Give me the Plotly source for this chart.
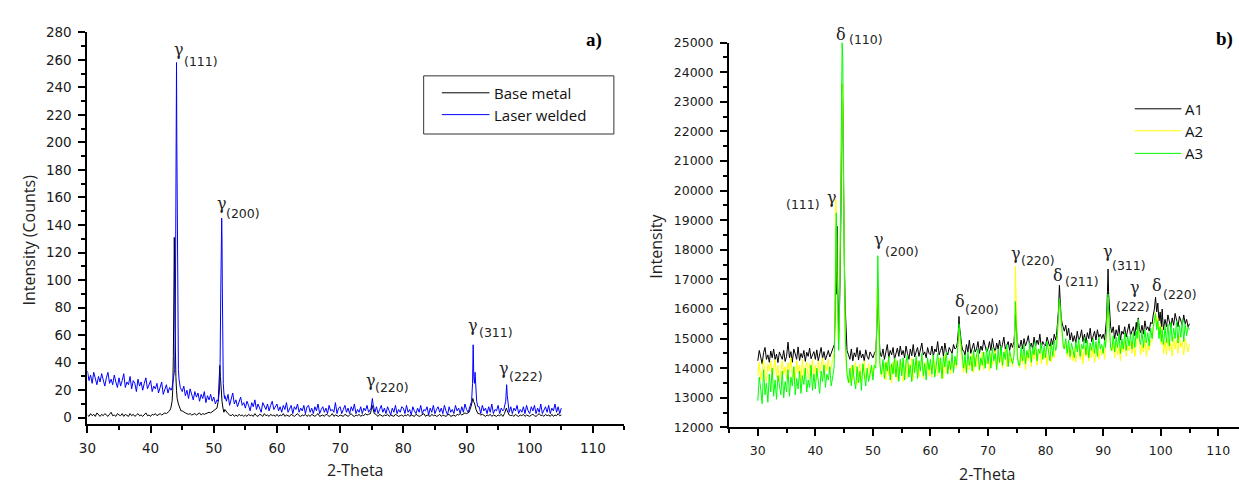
import plotly.graph_objects as go

W, H = 1239, 488

# ---------------- DATA ----------------
GRID = [round(30 + 0.25 * i, 2) for i in range(301)]   # 2-Theta grid 30..105, step 0.25

# Panel a) background intensity (Counts) on GRID; points inside a peak cluster are replaced by the peak list
BASE_BG = [2,1,3,1.5,2.5,1,3.5,2,1,2.5,1.5,3,2,1,2.5,4,1.5,2,1,3,
           2,1.5,3,1,2.5,2,1,3,1.5,2.5,1,2,3,1.5,2,1,2.5,3.5,1.5,2,
           1,2.5,2,3,1.5,2.5,3,2,2.5,3.5,3,4,5,8,10,10,10,9,8,7,
           5,4,3.5,3,2.5,3,2,2.5,3,2,2.5,3.5,2,3,2.5,3,3.5,4,3.5,4.5,
           5,6,8,10,10,10,8,6,4,3,2,1.5,2.5,1,2,1,2.5,1.5,2,1,
           2,1,2.5,1.5,2,1,3,1.5,1,2.5,2,1,3,1.5,2,1,2.5,1.5,2,1,
           2.5,1,2,1.5,3,1,2,1.5,1,2.5,2,1,2,3,1.5,1,2,1.5,2.5,1,
           2,1,2.5,1.5,1,2,3,1,1.5,2,1,2.5,2,1,1.5,3,1,2,1.5,1,
           2,1.5,1,2.5,2,1,2,3,1.5,1,2,1.5,2.5,1,2,1.5,3,2,2.5,3,
           6,5,3,2,1,2.5,1.5,1,2,1.5,2.5,1,2,1.5,1,2.5,2,1,1.5,2,
           1,2,1.5,2.5,1,2,1.5,1,2.5,2,1,1.5,2,3,1,2,1.5,1,2.5,1.5,
           2,1,1.5,2.5,1,2,1.5,1,2,2.5,1,1.5,2,1,2.5,2,3,2,2.5,3.5,
           3,4,6,10,14,10,7,4,3,2,2.5,1.5,1,2,1.5,2.5,1,2,1.5,1,
           2,1.5,2.5,1,2,5,4,2,1.5,2,1,2.5,1.5,1,2,1.5,2.5,1,2,1.5,
           1,2,2.5,1.5,1,2,3,1.5,2,1,2.5,1.5,2,1,2.5,1,2,1.5,3,1.5,
           2]
BASE_PEAKS_X = [[43.2,43.4,43.5,43.6,43.7,43.75,43.8,43.85,43.9,44.0,44.1,44.2,44.4,44.6,44.8],
                [50.5,50.7,50.85,50.95,51.05,51.15,51.3,51.45,51.6],
                [74.8,75.05,75.2,75.4],
                [90.4,90.7,90.9,91.0,91.1,91.3,91.5,91.8],
                [96.0,96.3,96.45,96.6]]
BASE_PEAKS_Y = [[7,12,20,45,100,131,110,70,40,30,20,14,10,7,5],
                [7,12,25,38,30,20,12,7,4],
                [3,9,6,3],
                [4,8,12,14,12,10,6,3],
                [3,7,5,3]]

LASER_BG = [34,27,31,25,33,28,24,30,26,32,27,23,29,33,25,28,24,31,26,22,
            29,23,27,32,22,26,24,30,21,27,25,19,28,23,26,20,25,29,21,24,
            27,19,23,21,25,18,22,26,17,21,24,18,22,20,30,40,200,60,30,24,
            19,23,16,20,14,21,17,13,19,15,18,12,17,14,19,11,16,13,17,12,
            15,10,13,20,40,140,40,16,12,17,9,14,18,10,13,8,12,15,9,11,
            7,12,9,5,11,8,13,6,10,7,4,11,8,6,10,5,9,12,6,8,
            10,5,8,4,9,6,11,4,7,9,3,8,6,10,4,7,5,9,3,8,
            9,4,7,3,8,5,10,3,6,8,4,7,3,9,5,6,4,11,3,7,
            8,3,6,9,4,7,3,8,5,10,3,6,4,8,3,7,5,9,4,6,
            11,9,4,8,3,6,9,4,7,3,8,5,2,7,4,9,3,6,4,8,
            7,3,9,4,6,2,8,5,3,7,4,9,3,6,5,8,2,7,4,9,
            3,6,8,4,7,3,9,5,2,8,4,6,3,9,5,7,3,8,4,10,
            6,4,8,12,50,25,30,12,8,3,9,5,7,3,8,4,10,3,6,5,
            9,3,7,5,10,20,11,4,8,3,7,5,9,3,6,4,8,3,9,5,
            3,8,5,9,3,7,4,10,3,6,8,4,9,3,7,5,10,4,8,3,
            7]
LASER_PEAKS_X = [[43.4,43.6,43.8,43.9,44.0,44.05,44.1,44.15,44.2,44.25,44.3,44.4,44.5,44.7,44.9],
                 [50.7,50.9,51.0,51.1,51.2,51.25,51.3,51.35,51.4,51.5,51.6,51.7],
                 [74.9,75.0,75.1,75.2,75.4],
                 [90.6,90.8,90.95,91.05,91.15,91.25,91.35,91.45,91.6,91.8],
                 [95.9,96.2,96.35,96.45,96.55,96.7]]
LASER_PEAKS_Y = [[22,28,35,60,180,120,258,200,168,110,60,35,28,22,20],
                 [12,20,40,90,125,145,130,95,50,25,18,14],
                 [7,11,14,10,6],
                 [8,12,25,53,30,25,33,18,12,8],
                 [6,12,24,16,11,7]]

# Panel b) background intensity on GRID
A1_BG = [14250,14600,14380,14150,14520,14700,14300,14450,14200,14580,14350,14650,14280,14480,14190,14550,14420,14300,14600,14230,
         14400,14880,14350,14560,14200,14650,14480,14300,14720,14260,14500,14350,14600,14230,14540,14400,14680,14320,14450,14560,
         14300,14620,14250,14500,14700,14330,14560,14280,14450,14600,14380,14500,14600,14750,16000,18000,15500,17000,23000,18000,
         17000,15500,14700,14450,14300,14650,14250,14520,14380,14700,14280,14600,14350,14480,14250,14620,14400,14300,14550,14450,
         14350,14500,14600,16000,15800,14600,14400,14650,14300,14550,14800,14350,14600,14450,14700,14300,14550,14680,14400,14750,
         14450,14600,14350,14750,14500,14300,14650,14420,14800,14380,14550,14700,14400,14600,14850,14450,14550,14350,14700,14500,
         14450,14750,14400,14650,14550,14900,14450,14600,14750,14400,14850,14550,14450,14700,14600,14500,14800,14650,14700,14900,
         15400,15000,14800,14600,14450,14800,14550,14950,14500,14700,14850,14550,14650,14900,14500,14750,14600,14950,14700,14550,
         14650,14900,14600,15000,14700,14550,14850,14650,14950,14600,14800,15050,14650,14750,14900,14600,14850,14700,15000,15600,
         15000,14800,14700,14950,14650,15000,14750,14900,15100,14700,14850,14650,15050,14750,14950,14800,15150,14700,14900,14800,
         14750,15050,14850,14700,15000,14800,15150,14950,16000,16500,16200,15600,15300,15250,15450,15100,15350,14950,15200,14900,
         15100,14850,15250,14950,15050,15300,14900,15150,14850,15200,15000,15350,14900,15100,15250,14950,15300,15050,15150,15000,
         15150,14950,16000,17000,16000,15500,15200,15400,15000,15300,15100,15450,14950,15250,15150,15400,15050,15300,15500,15100,
         15250,15400,15100,15550,15700,15500,15200,15450,15150,15600,15300,15400,15250,15550,15800,16000,16300,15900,16100,15700,
         15500,15900,15350,15650,15400,15800,15500,15350,15700,15450,15850,15550,15400,15750,15600,15450,15800,15500,15650,15400,
         15500]
A2_BG = [13750,14200,13600,14050,14300,13800,13550,14150,13900,14250,13650,14000,14300,13700,14100,13550,13950,14250,13800,14050,
         13650,14200,13900,14350,13700,14050,13600,14250,13850,14100,13550,14300,13750,14000,14200,13650,14150,13900,14300,13700,
         14100,13600,14250,13850,14050,14350,13700,14150,13900,14300,13800,14100,14300,14500,16500,19700,15600,18000,23600,18000,
         16200,14900,14000,13700,13500,14100,13600,13950,14200,13450,13850,14150,13550,14000,14250,13600,13900,14150,13700,14050,
         13800,14150,14200,16700,15600,14100,13700,14000,14150,13600,14250,13750,14100,13500,14200,13850,14300,13600,14050,13900,
         14200,13550,14000,14300,13650,14150,13800,14350,13600,14100,13900,14250,13700,14050,14400,13650,14200,13850,14300,13750,
         14150,13700,14400,13900,14250,13750,14350,13950,14200,13650,14450,13850,14150,14300,13800,14400,13950,14250,14000,14900,
         15100,14700,14300,13850,14250,13800,14400,13950,14300,14500,13850,14350,14050,14450,13900,14250,14550,13950,14300,14150,
         14400,13900,14500,14100,14350,14600,13950,14450,14150,14550,14000,14400,14650,14050,14500,14200,14350,14050,15500,16600,
         15300,14600,14000,14450,14150,14600,13950,14500,14250,14650,14050,14550,14300,14700,14100,14450,14650,14150,14550,14300,
         14650,14100,14550,14750,14200,14600,14350,14700,15700,16300,15900,15400,15000,14650,14900,14400,14750,14300,14600,14250,
         14700,14200,14550,14800,14300,14650,14150,14750,14400,14600,14250,14850,14350,14700,14200,14600,14800,14300,14650,14450,
         14750,14300,15200,16000,16400,15100,14600,14850,14350,14900,14450,14700,14250,14850,14550,14950,14400,14750,14600,14900,
         14500,14850,14400,14950,15400,14900,14450,14800,14550,14950,14400,14850,14600,14950,15300,15600,15900,15400,15700,15100,
         15400,14700,14500,14900,14450,15000,14600,14850,14400,15050,14650,14950,14500,15100,14700,14900,14450,15000,14750,14550,
         14800]
A3_BG = [12900,13700,13300,12800,13950,13100,13500,12850,13800,13200,14000,13050,13600,12950,13750,13350,13100,13900,13000,13550,
         13200,13950,13050,13700,13400,14050,13100,13650,13300,13900,13150,13750,13450,14000,13200,13600,13350,14100,13250,13800,
         13300,14000,13450,13150,13900,13550,14100,13350,13800,13600,14050,13400,13700,14000,16000,18600,17500,15200,25000,22600,
         16500,15000,13800,13500,14000,13400,14100,13600,13300,14050,13500,13900,13250,14150,13650,13400,14000,13550,13800,14100,
         13600,14100,15000,17800,15000,14200,13800,14300,13650,14200,13900,14400,13600,14150,13800,14350,13700,14250,13550,14300,
         13750,14350,13600,14200,14450,13700,14100,13550,14300,13850,14400,13650,14250,13900,14500,13750,14150,13600,14350,13950,
         14300,13800,14450,13700,14200,14500,13850,14350,13650,14400,14050,14550,13800,14250,13950,14500,13850,14400,14100,15000,
         15300,14900,14500,14000,14450,13850,14550,14100,14400,13900,14600,14050,14450,14650,13950,14350,14100,14550,14000,14700,
         14150,14600,14000,14700,14250,14500,13950,14650,14200,14750,14100,14550,14300,14800,14050,14600,14350,14150,15100,15800,
         15000,14400,14100,14700,14250,14800,14150,14600,14350,14850,14200,14700,14450,14900,14250,14650,14500,14850,14300,14750,
         14350,14900,14500,14250,14850,14400,14950,14600,15800,16350,16000,15500,15100,14650,15000,14500,14950,14400,14850,14600,
         14350,14900,14550,15000,14400,14800,14650,15050,14450,14950,14350,14850,14600,15000,14500,14900,14400,15050,14650,14800,
         14500,14950,15300,16100,16500,15900,14600,15100,14550,15050,14700,15150,14500,15000,14650,15200,14600,15100,14750,15150,
         14650,15200,14700,15250,15650,15000,14800,15250,14700,15300,14850,15200,14750,15350,15400,15700,15850,15300,15600,15000,
         14900,15300,14800,15400,14850,15500,14750,15550,14900,15350,15000,15600,14850,15450,15050,15650,14900,15500,15100,15400,
         15300]

B_PEAKS_X = [[43.3,43.45,43.55,43.65,43.75,43.85,43.95,44.05,44.15,44.3,44.45,44.55,44.65,44.75,44.85,44.95,45.05,45.2,45.35,45.5],
             [50.5,50.65,50.75,50.85,50.95,51.05,51.2,51.4],
             [64.7,64.85,64.95,65.05,65.2,65.4,65.6],
             [74.5,74.65,74.75,74.85,74.95,75.1,75.3],
             [81.9,82.1,82.25,82.4,82.55,82.7,82.9,83.1],
             [90.4,90.6,90.75,90.85,90.95,91.1,91.3],
             [95.9,96.1,96.3],
             [98.5,98.7,98.9,99.1,99.3,99.5,99.7,99.9,100.1,100.25,100.45]]
A1_PEAKS_Y = [[14800,16000,18100,16500,18800,17000,15800,15200,15700,17000,19500,21500,23600,22800,20000,18500,17500,16000,15000,14600],
              [14600,15200,16000,16450,15800,15000,14600,14400],
              [14900,15300,15750,15400,15100,14800,14600],
              [14900,15300,15800,15600,15200,14900,14700],
              [15100,15500,16000,16800,16200,15700,15500,15300],
              [15200,15700,16600,17350,16500,15800,15400],
              [15300,15700,15300],
              [15500,15800,16000,16400,15900,16200,15600,15900,15400,16000,15300]]
A2_PEAKS_Y = [[14600,16500,19700,19000,17200,15600,15000,14800,15400,18000,21500,23400,23600,23000,21000,18000,16200,14900,14100,13800],
              [14200,15200,16700,16300,15600,14700,14100,13900],
              [14400,14900,15350,15100,14700,14300,14000],
              [14500,15500,17450,16600,15300,14600,14200],
              [14800,15200,15700,16300,15900,15400,15000,14700],
              [14700,15200,16000,16400,15800,15100,14600],
              [15000,15400,14900],
              [14900,15300,15600,15900,15400,15700,15100,15500,14800,15400,14700]]
A3_PEAKS_Y = [[14500,16000,18600,19250,17500,15800,14900,14600,15200,17500,21000,22800,25000,24500,22600,19000,16500,15000,14200,13800],
              [14000,15000,16200,17800,16600,15000,14200,13800],
              [14500,15000,15500,15300,14900,14500,14200],
              [14400,15100,16250,15800,15000,14400,14100],
              [14700,15200,15800,16350,16000,15500,15100,14700],
              [14700,15300,16100,16500,15900,15200,14700],
              [15000,15650,15000],
              [15000,15400,15700,15850,15300,15600,15000,15400,14900,15300,14800]]

SERIES_A = [("Base metal", BASE_BG, BASE_PEAKS_X, BASE_PEAKS_Y, "#000000"),
            ("Laser welded", LASER_BG, LASER_PEAKS_X, LASER_PEAKS_Y, "#0000ff")]
SERIES_B = [("A1", A1_BG, B_PEAKS_X, A1_PEAKS_Y, "#000000"),
            ("A2", A2_BG, B_PEAKS_X, A2_PEAKS_Y, "#ffff00"),
            ("A3", A3_BG, B_PEAKS_X, A3_PEAKS_Y, "#00ff00")]

for s in SERIES_A + SERIES_B:
    assert len(s[1]) == len(GRID), (s[0], len(s[1]))
    for cx, cy in zip(s[2], s[3]):
        assert len(cx) == len(cy), s[0]


def merged(bg, clusters_x, clusters_y):
    spans = [(min(cx), max(cx)) for cx in clusters_x]
    pts = [(x, y) for x, y in zip(GRID, bg) if not any(a <= x <= b for a, b in spans)]
    for cx, cy in zip(clusters_x, clusters_y):
        pts += list(zip(cx, cy))
    pts.sort(key=lambda p: p[0])
    return [p[0] for p in pts], [p[1] for p in pts]


fig = go.Figure()
for name, bg, cx, cy, col in SERIES_A:
    xs, ys = merged(bg, cx, cy)
    fig.add_trace(go.Scatter(x=xs, y=ys, mode="lines", name=name, showlegend=False,
                             line=dict(color=col, width=1), xaxis="x", yaxis="y"))
for name, bg, cx, cy, col in SERIES_B:
    xs, ys = merged(bg, cx, cy)
    fig.add_trace(go.Scatter(x=xs, y=ys, mode="lines", name=name, showlegend=False,
                             line=dict(color=col, width=1), xaxis="x2", yaxis="y2"))


def X(p):
    return p / W


def Y(p):
    return 1 - p / H


TICKFONT_A = dict(family="DejaVu Sans", size=13.5, color="#1a1a1a")
TICKFONT_B = dict(family="DejaVu Sans", size=12.5, color="#1a1a1a")


def axis(domain, rng, dtick, mdtick, font, anchor):
    return dict(domain=domain, range=rng, dtick=dtick, tick0=0, anchor=anchor,
                showline=True, linecolor="black", linewidth=2,
                ticks="outside", ticklen=7, tickwidth=1.5, tickcolor="black",
                minor=dict(dtick=mdtick, ticks="outside", ticklen=4, tickwidth=1.5, tickcolor="black"),
                ticklabelstandoff=4,
                showgrid=False, zeroline=False, tickfont=font, tickformat="d", fixedrange=True)


fig.update_layout(
    width=W, height=H, margin=dict(l=0, r=0, t=0, b=0),
    paper_bgcolor="white", plot_bgcolor="white", showlegend=False,
    xaxis=axis([X(79), X(620)], [30, 115], 10, 5, TICKFONT_A, "y"),
    yaxis=axis([Y(429), Y(25)], [-4.4, 280], 20, 10, TICKFONT_A, "x"),
    xaxis2=axis([X(725.3), 1.0], [25, 113.6], 10, 5, TICKFONT_B, "y2"),
    yaxis2=axis([Y(432.7), Y(35.7)], [12000, 25000], 1000, 500, TICKFONT_B, "x2"),
)

ann = []
TITLEFONT = dict(family="Open Sans", size=16, color="#222")


def text(px, py, s, font, xanchor="center", yanchor="middle", angle=0):
    ann.append(dict(x=X(px), y=Y(py), xref="paper", yref="paper", text=s, showarrow=False,
                    xanchor=xanchor, yanchor=yanchor, font=font, textangle=angle))


# axis titles
text(20, 239, "Intensity (Counts)", TITLEFONT, angle=-90)
text(349.5, 477, "2-Theta", TITLEFONT)
text(651.5, 245.5, "Intensity", TITLEFONT, angle=-90)
text(985.7, 481, "2-Theta", TITLEFONT)

# panel letters
LETTER = dict(family="Liberation Serif", size=19, color="black")
text(589.5, 33, "<b>a)</b>", LETTER)
text(1224.7, 32, "<b>b)</b>", LETTER)

# peak labels
GREEK = dict(family="DejaVu Serif", size=16, color="#222")
SUB = dict(family="DejaVu Sans", size=12.5, color="#222")


def peak(gx, gy, g, sub, sx, sy, sub_anchor="left"):
    text(gx, gy, g, GREEK)
    text(sx, sy, sub, SUB, xanchor=sub_anchor)


peak(171, 43, "γ", "(111)", 174, 55)
peak(215, 202, "γ", "(200)", 217, 212)
peak(365, 384, "γ", "(220)", 367, 392)
peak(467, 328, "γ", "(311)", 471, 335)
peak(499, 372, "γ", "(222)", 502, 380)

peak(838, 27, "δ", "(110)", 844, 33)
peak(829, 195, "γ", "(111)", 819, 203, sub_anchor="right")
peak(876, 238.5, "γ", "(200)", 880, 251)
peak(957.5, 302.5, "δ", "(200)", 961, 311)
peak(1014.7, 253, "γ", "(220)", 1017, 261)
peak(1057, 276, "δ", "(211)", 1062, 282.5)
peak(1107, 251, "γ", "(311)", 1109, 266)
peak(1134, 288, "γ", "(222)", 1132, 307.5, sub_anchor="center")
peak(1156, 286.7, "δ", "(220)", 1160, 296)

# legends (drawn)
LEGFONT = dict(family="Open Sans", size=15, color="#111")
shapes = [dict(type="rect", xref="paper", yref="paper", x0=X(417.7), x1=X(609.3), y0=Y(130), y1=Y(70),
               line=dict(color="#333", width=1), fillcolor="rgba(0,0,0,0)")]
for (name, _, _, _, col), yy in zip(SERIES_A, [87.5, 110]):
    shapes.append(dict(type="line", xref="paper", yref="paper", x0=X(436), x1=X(484), y0=Y(yy), y1=Y(yy),
                       line=dict(color=col, width=1)))
    text(487, yy, name, LEGFONT, xanchor="left")
for (name, _, _, _, col), yy in zip(SERIES_B, [104, 126.7, 150]):
    shapes.append(dict(type="line", xref="paper", yref="paper", x0=X(1134), x1=X(1181), y0=Y(yy), y1=Y(yy),
                       line=dict(color=col, width=1)))
    text(1183, yy, name, LEGFONT, xanchor="left")

fig.update_layout(annotations=ann, shapes=shapes)
fig.write_html("out.html")
